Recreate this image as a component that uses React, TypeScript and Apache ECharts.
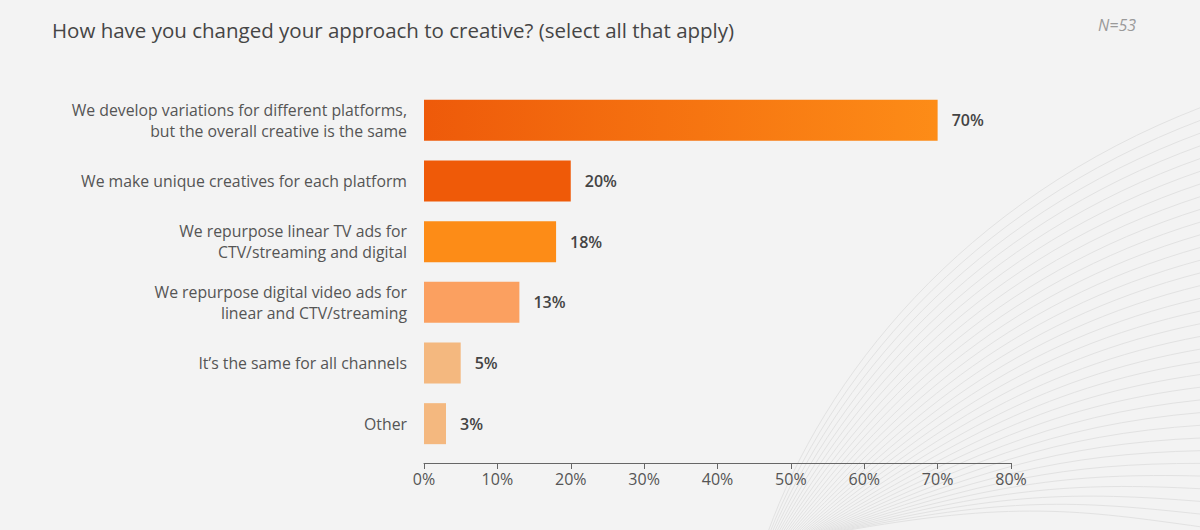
import React, { useEffect, useRef } from "react";
import * as echarts from "echarts";

const categories = [
  "We develop variations for different platforms,\nbut the overall creative is the same",
  "We make unique creatives for each platform",
  "We repurpose linear TV ads for\nCTV/streaming and digital",
  "We repurpose digital video ads for\nlinear and CTV/streaming",
  "It’s the same for all channels",
  "Other",
];
const values = [70, 20, 18, 13, 5, 3];
const tickValues = [0, 10, 20, 30, 40, 50, 60, 70, 80];
const titleText = "How have you changed your approach to creative? (select all that apply)";
const noteText = "N=53";

const FONT = "'Open Sans', 'Noto Sans', sans-serif";

export default function App() {
  const ref = useRef<HTMLDivElement>(null);
  useEffect(() => {
    document.body.style.margin = "0";
    if (!ref.current) return;
    const chart = echarts.init(ref.current, undefined, { renderer: "svg" });

    const barColors: any[] = [
      new echarts.graphic.LinearGradient(0, 0, 1, 0, [
        { offset: 0, color: "#ee5a0a" },
        { offset: 1, color: "#fd8c17" },
      ]),
      "#ef5a08",
      "#fd8c17",
      "#fba060",
      "#f4b87f",
      "#f4b87f",
    ];

    // decorative background curves
    const curves: any[] = [];
    const N = 34;
    for (let i = 0; i < N; i++) {
      const t = i / (N - 1);
      const sx = 768 + 70 * t;
      const ey = 107 + 420 * t;
      curves.push({
        type: "bezierCurve",
        silent: true,
        z: -10,
        shape: {
          x1: sx,
          y1: 532,
          cpx1: sx + 55 + 120 * t,
          cpy1: 380 + 120 * t,
          cpx2: 960 + 120 * t,
          cpy2: 200 + 310 * t,
          x2: 1202,
          y2: ey,
        },
        style: { stroke: "#e2e2e2", lineWidth: 1, fill: null },
      });
    }

    chart.setOption({
      animation: false,
      backgroundColor: "#f3f3f3",
      textStyle: { fontFamily: FONT },
      title: {
        text: titleText,
        left: 47,
        top: 14,
        textStyle: { fontFamily: FONT, fontSize: 20.5, fontWeight: "normal", color: "#454545" },
      },
      graphic: [
        ...curves,
        {
          type: "text",
          right: 64,
          top: 17,
          style: {
            text: noteText,
            font: `italic 16px ${FONT}`,
            fill: "#9a9a9a",
          },
        },
      ],
      grid: { left: 424, right: 189, top: 90, bottom: 76, containLabel: false },
      xAxis: {
        type: "value",
        min: 0,
        max: 80,
        interval: 10,
        offset: 9,
        axisLine: { show: true, lineStyle: { color: "#666", width: 1 } },
        axisTick: { show: true, length: 6, lineStyle: { color: "#666" } },
        splitLine: { show: false },
        axisLabel: {
          formatter: (v: number) => (tickValues.includes(v) ? `${v}%` : ""),
          color: "#555",
          fontSize: 16,
          margin: 8,
          fontFamily: FONT,
        },
      },
      yAxis: {
        type: "category",
        data: categories,
        inverse: true,
        axisLine: { show: false },
        axisTick: { show: false },
        axisLabel: {
          color: "#555",
          fontSize: 15.8,
          lineHeight: 21,
          margin: 17,
          align: "right",
          fontFamily: FONT,
        },
      },
      series: [
        {
          type: "bar",
          barWidth: 41,
          data: values.map((v, i) => ({ value: v, itemStyle: { color: barColors[i] } })),
          label: {
            show: true,
            position: "right",
            distance: 14,
            formatter: (p: any) => `${p.value}%`,
            color: "#444",
            fontWeight: 600,
            fontSize: 16,
            fontFamily: FONT,
          },
        },
      ],
    });
    return () => chart.dispose();
  }, []);
  return <div ref={ref} style={{ width: 1200, height: 530 }} />;
}
